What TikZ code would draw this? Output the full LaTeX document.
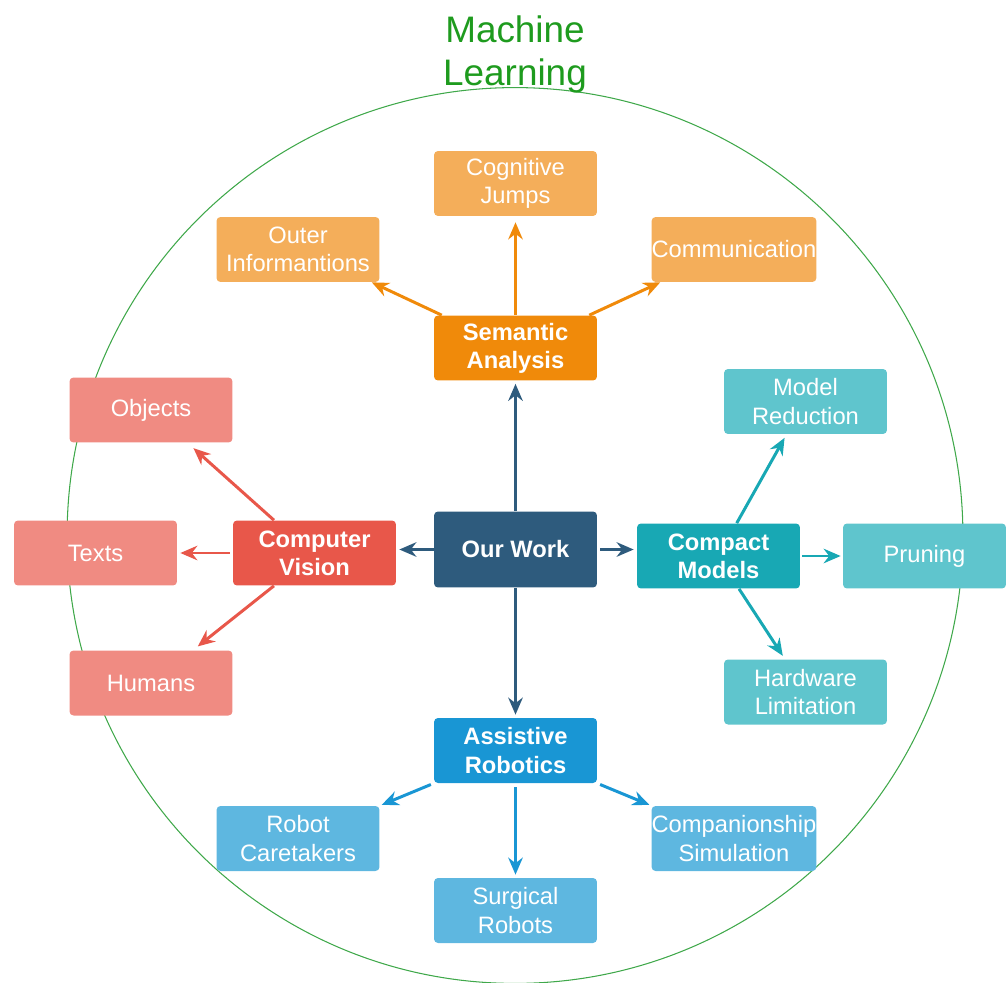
\documentclass[tikz,border=0pt]{standalone}
\usepackage{fontspec}
\setmainfont{Liberation Sans}
\usetikzlibrary{arrows.meta}
\definecolor{mlgreen}{HTML}{1E9B1E}
\definecolor{ringgreen}{HTML}{3FA84A}
\definecolor{workblue}{HTML}{2E5B7D}
\definecolor{semorange}{HTML}{F08A0A}
\definecolor{semlight}{HTML}{F4AE5A}
\definecolor{cvred}{HTML}{E8574A}
\definecolor{cvlight}{HTML}{F08B82}
\definecolor{cmteal}{HTML}{18A8B4}
\definecolor{cmlight}{HTML}{5FC5CD}
\definecolor{arblue}{HTML}{1996D4}
\definecolor{arlight}{HTML}{5EB7E0}

\begin{document}
\begin{tikzpicture}[x=0.02cm,y=-0.02cm,
  box/.style={rounded corners=0.08cm,minimum width=3.26cm,minimum height=1.3cm,
    inner sep=0pt,align=center,text=white,font=\fontsize{13.5}{16}\selectfont},
  hub/.style={box,font=\bfseries\fontsize{13.5}{16}\selectfont},
  link/.style={-{Stealth[length=3.4mm,width=2.9mm]},line width=1.7pt}]
\useasboundingbox (0,0) rectangle (1007,983);
\draw[ringgreen,line width=0.6pt] (515,535.5) circle[radius=8.96cm];
\node[text=mlgreen,align=center,inner sep=0pt,font=\fontsize{21}{24}\selectfont] (ml) at (515,54.5) {Machine\\Learning};

% hubs
\node[hub,fill=workblue,minimum height=1.52cm] (work) at (515.5,549.5) {Our Work};
\node[hub,fill=semorange] (sem) at (515.5,348) {Semantic\\Analysis};
\node[hub,fill=cvred] (cv) at (314.5,553) {Computer\\Vision};
\node[hub,fill=cmteal] (cm) at (718.5,556) {Compact\\Models};
\node[hub,fill=arblue] (ar) at (515.5,750.5) {Assistive\\Robotics};

% leaves
\node[box,fill=semlight] (cog) at (515.5,183.5) {Cognitive\\Jumps};
\node[box,fill=semlight] (outer) at (298,249.5) {Outer\\Informantions};
\node[box,fill=semlight] (comm) at (734,249.5) {Communication};
\node[box,fill=cvlight] (obj) at (151,410) {Objects};
\node[box,fill=cvlight] (texts) at (95.5,553) {Texts};
\node[box,fill=cvlight] (hum) at (151,683) {Humans};
\node[box,fill=cmlight] (mred) at (805.5,401.5) {Model\\Reduction};
\node[box,fill=cmlight] (prun) at (924.5,556) {Pruning};
\node[box,fill=cmlight] (hw) at (805.5,692) {Hardware\\Limitation};
\node[box,fill=arlight] (rc) at (298,838.5) {Robot\\Caretakers};
\node[box,fill=arlight] (sr) at (515.5,910.5) {Surgical\\Robots};
\node[box,fill=arlight] (cs) at (734,838.5) {Companionship\\Simulation};

% arrows
\draw[link,workblue,shorten >=0.06cm] (work) -- (sem);
\draw[link,workblue,shorten >=0.06cm] (work.west) -- (work.west -| cv.east);
\draw[link,workblue,shorten >=0.06cm,shorten <=0.06cm] (work.east) -- (work.east -| cm.west);
\draw[link,workblue,shorten >=0.06cm] (work) -- (ar);

\draw[link,semorange,shorten >=0.12cm] (sem) -- (cog);
\draw[link,semorange] (sem.156) -- (outer.-24);
\draw[link,semorange] (sem.24) -- (comm.204);

\draw[link,cvred,shorten >=0.16cm] (cv.141) -- (obj.-42);
\draw[link,cvred,shorten >=0.06cm,shorten <=0.06cm] (cv) -- (texts);
\draw[link,cvred,shorten >=0.12cm] (cv.219) -- (hum.38);

\draw[link,cmteal,shorten >=0.08cm] (cm.61.6) -- (mred.-120.5);
\draw[link,cmteal,shorten >=0.04cm,shorten <=0.04cm] (cm) -- (prun);
\draw[link,cmteal,shorten >=0.08cm] (cm.-58.4) -- (hw.122);

\draw[link,arblue,shorten >=0.04cm,shorten <=0.06cm] (ar.south west) -- (rc.north east);
\draw[link,arblue,shorten >=0.06cm,shorten <=0.08cm] (ar) -- (sr);
\draw[link,arblue,shorten >=0.04cm,shorten <=0.06cm] (ar.south east) -- (cs.north west);
\end{tikzpicture}
\end{document}
